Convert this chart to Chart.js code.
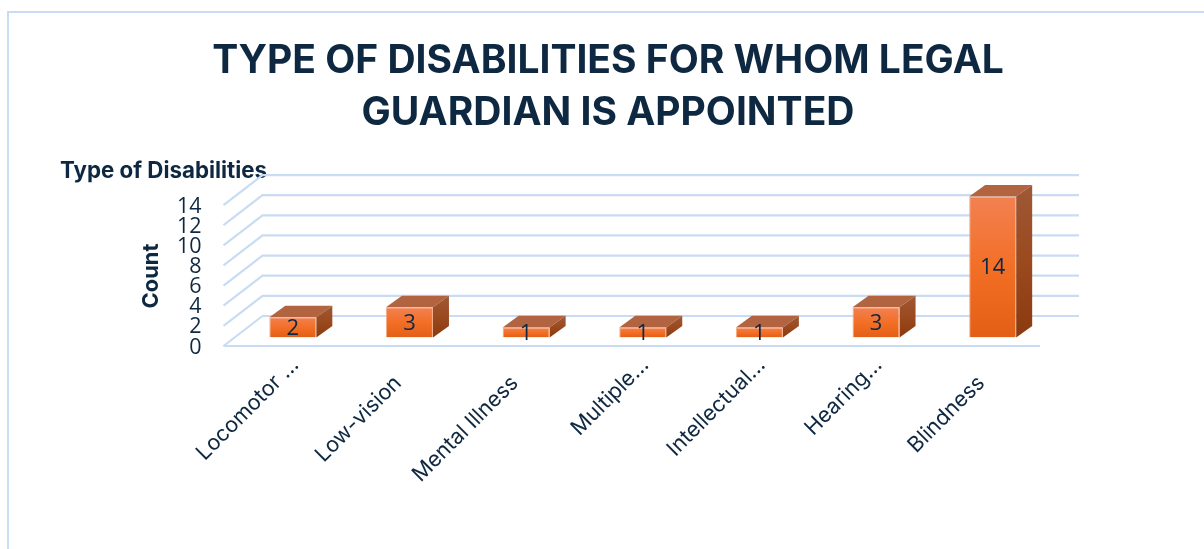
<!DOCTYPE html>
<html>
<head>
<meta charset="utf-8">
<title>Type of disabilities</title>
<script src="https://cdn.jsdelivr.net/npm/chart.js@4"></script>
<style>
  html, body { margin: 0; padding: 0; background: #fff; overflow: hidden; }
  canvas { display: block; }
</style>
</head>
<body>
<canvas id="chart" width="1204" height="549"></canvas>
<script>
// Data
const categories = ['Locomotor …', 'Low-vision', 'Mental Illness', 'Multiple…', 'Intellectual…', 'Hearing…', 'Blindness'];
const counts = [2, 3, 1, 1, 1, 3, 14];
const titleLines = ['TYPE OF DISABILITIES FOR WHOM LEGAL', 'GUARDIAN IS APPOINTED'];
const seriesName = 'Type of Disabilities';
const axisTitle = 'Count';
const countTicks = [0, 2, 4, 6, 8, 10, 12, 14];

const INK = '#0E2841';
const GRID = '#C9DCF3';
const FONT = 'Inter, "Open Sans", sans-serif';
const NUMBER_FONT = '"Open Sans", sans-serif';

// Offsets of the box depth and of the floor relative to the plane of the front faces
const BOX_DX = 16, BOX_DY = -11.6;
const WALL_DX = 28, WALL_DY = -21.5;
const FLOOR_DX = -11, FLOOR_DY = 8.5;

function linear(ctx, y0, y1, stops) {
  const g = ctx.createLinearGradient(0, y0, 0, y1);
  stops.forEach(([p, c]) => g.addColorStop(p, c));
  return g;
}

const backdrop = {
  id: 'backdrop',
  afterLayout(chart) {
    // Headings span the full frame, not the plot
    chart.titleBlock.left = 12;
    chart.titleBlock.right = 1204;
    const sub = chart.boxes.find(b => b.options && b.options.text === seriesName);
    if (sub) sub.left = 60;
  },
  beforeDraw(chart) {
    const { ctx } = chart;
    ctx.save();
    ctx.strokeStyle = GRID;
    ctx.lineWidth = 2;
    ctx.beginPath();
    ctx.moveTo(8, 560);
    ctx.lineTo(8, 12);
    ctx.lineTo(1210, 12);
    ctx.stroke();

    // Vertical axis title, placed lower than the centre of the scale
    ctx.translate(151.5, 276);
    ctx.rotate(-Math.PI / 2);
    ctx.fillStyle = INK;
    ctx.font = 'bold 22px ' + FONT;
    ctx.textAlign = 'center';
    ctx.textBaseline = 'middle';
    ctx.fillText(axisTitle, 0, 0);
    ctx.restore();

    // Untruncated category names sit lower along their slant
    chart.scales.x.getLabelItems().forEach(item => {
      if (!item.label.endsWith('…') && !item.nudged) {
        item.options.translation[0] -= 14;
        item.options.translation[1] += 18;
        item.nudged = true;
      }
    });
  },
  beforeDatasetsDraw(chart) {
    const { ctx, chartArea: { left, right } } = chart;
    const y = chart.scales.y;
    ctx.save();
    ctx.strokeStyle = GRID;
    ctx.lineWidth = 2.2;

    // Back wall lines with their side-wall diagonals
    y.ticks.forEach(t => {
      const py = y.getPixelForValue(t.value);
      ctx.beginPath();
      ctx.moveTo(left + FLOOR_DX, py + FLOOR_DY);
      ctx.lineTo(left + WALL_DX, py + WALL_DY);
      ctx.lineTo(right + WALL_DX, py + WALL_DY);
      ctx.stroke();
    });

    // Front edge of the floor
    const p0 = y.getPixelForValue(0);
    ctx.beginPath();
    ctx.moveTo(left + FLOOR_DX, p0 + FLOOR_DY);
    ctx.lineTo(right + FLOOR_DX, p0 + FLOOR_DY);
    ctx.stroke();

    // Top and side faces of each box
    chart.getDatasetMeta(0).data.forEach(bar => {
      const l = bar.x - bar.width / 2, r = bar.x + bar.width / 2;
      const t = bar.y, b = bar.base;
      ctx.fillStyle = '#B26440';
      ctx.beginPath();
      ctx.moveTo(l, t);
      ctx.lineTo(l + BOX_DX, t + BOX_DY);
      ctx.lineTo(r + BOX_DX, t + BOX_DY);
      ctx.lineTo(r, t);
      ctx.closePath();
      ctx.fill();
      ctx.fillStyle = linear(ctx, t + BOX_DY, b, [[0, '#9F5836'], [0.5, '#9A4A1E'], [1, '#8A3A0E']]);
      ctx.beginPath();
      ctx.moveTo(r, t);
      ctx.lineTo(r + BOX_DX, t + BOX_DY);
      ctx.lineTo(r + BOX_DX, b + BOX_DY);
      ctx.lineTo(r, b);
      ctx.closePath();
      ctx.fill();
    });
    ctx.restore();
  },
  afterDatasetsDraw(chart) {
    const { ctx } = chart;
    ctx.save();
    ctx.fillStyle = INK;
    ctx.font = '22px ' + NUMBER_FONT;
    ctx.textAlign = 'center';
    ctx.textBaseline = 'middle';
    chart.getDatasetMeta(0).data.forEach((bar, i) => {
      ctx.fillText(String(counts[i]), bar.x, (bar.y + bar.base) / 2 + 1);
    });
    ctx.restore();
  }
};

new Chart(document.getElementById('chart'), {
  type: 'bar',
  plugins: [backdrop],
  data: {
    labels: categories,
    datasets: [{
      label: seriesName,
      data: counts,
      barPercentage: 0.403,
      categoryPercentage: 1,
      borderColor: '#F6A985',
      borderWidth: 1,
      backgroundColor(c) {
        const { chart, parsed } = c;
        if (!chart.chartArea || !parsed) return '#F36F25';
        const y = chart.scales.y;
        return linear(chart.ctx, y.getPixelForValue(parsed.y), y.getPixelForValue(0),
          [[0, '#F28152'], [0.5, '#F36F26'], [1, '#E35F15']]);
      }
    }]
  },
  options: {
    responsive: false,
    animation: false,
    layout: { padding: { left: 139, right: 153, top: 0, bottom: 0 } },
    plugins: {
      legend: { display: false },
      tooltip: { enabled: false },
      title: {
        display: true,
        text: titleLines,
        color: INK,
        font: { family: FONT, size: 39, weight: 'bold', lineHeight: 1.333 },
        padding: { top: 35, bottom: 18.8 }
      },
      subtitle: {
        display: true,
        text: seriesName,
        align: 'start',
        color: INK,
        font: { family: FONT, size: 22.3, weight: 'bold', lineHeight: 1.2 },
        padding: { top: 0, bottom: 12 }
      }
    },
    scales: {
      x: {
        grid: { display: false, drawTicks: false },
        border: { display: false },
        afterFit(scale) { scale.height = 549 - 337.5; },
        ticks: {
          autoSkip: false,
          minRotation: 45,
          maxRotation: 45,
          padding: 15,
          labelOffset: 2.5,
          color: INK,
          font: { family: FONT, size: 21.5 }
        }
      },
      y: {
        min: 0,
        max: 14,
        grid: { display: false, drawTicks: false },
        border: { display: false },
        afterBuildTicks(scale) { scale.ticks = countTicks.map(value => ({ value })); },
        afterFit(scale) { scale.width = 95.5; },
        ticks: {
          autoSkip: false,
          padding: 33,
          labelOffset: 10,
          color: INK,
          font: { family: NUMBER_FONT, size: 21.5 }
        }
      }
    }
  }
});
</script>
</body>
</html>
